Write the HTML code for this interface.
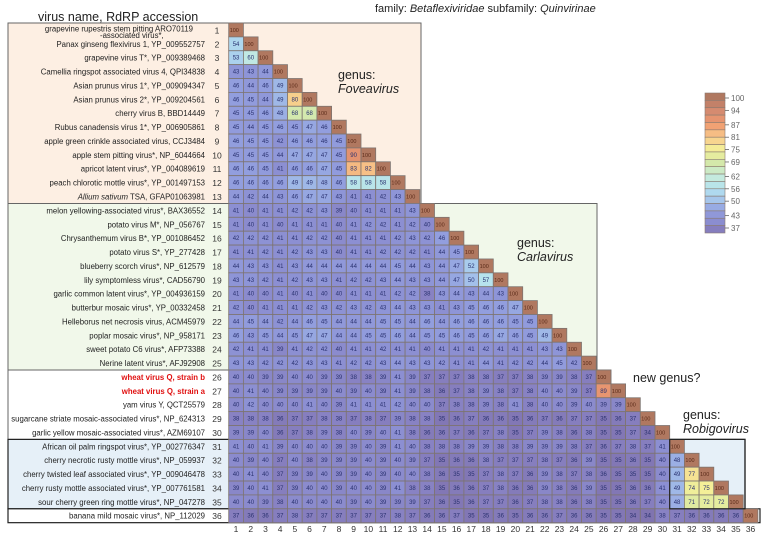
<!DOCTYPE html>
<html><head><meta charset="utf-8"><style>
html,body{margin:0;padding:0;background:#fff;}
svg{display:block;font-family:"Liberation Sans",sans-serif;}
</style></head><body>
<svg id="chart" width="767" height="535" viewBox="0 0 767 535" xmlns="http://www.w3.org/2000/svg">
<text x="375" y="12" font-size="11" fill="#222">family: <tspan font-style="italic">Betaflexiviridae</tspan>  subfamily: <tspan font-style="italic">Quinvirinae</tspan></text>
<text x="38" y="21" font-size="12.5" fill="#222">virus name, RdRP accession</text>
<g id="boxes"></g>
<g id="cells"></g>
<g id="labels"></g>
<g id="legend"></g>
<text x="338" y="79" font-size="12.5" fill="#222">genus:</text>
<text x="338" y="93" font-size="12.5" font-style="italic" fill="#222">Foveavirus</text>
<text x="517" y="247" font-size="12.5" fill="#222">genus:</text>
<text x="517" y="261" font-size="12.5" font-style="italic" fill="#222">Carlavirus</text>
<text x="633" y="382" font-size="12.5" fill="#222">new genus?</text>
<text x="683" y="419" font-size="12.5" fill="#222">genus:</text>
<text x="683" y="433" font-size="12.5" font-style="italic" fill="#222">Robigovirus</text>
</svg>
<script>
const rowNames = [
"grapevine rupestris stem pitting|ARO70119","Panax ginseng flexivirus 1, YP_009552757","grapevine virus T*, YP_009389468","Camellia ringspot associated virus 4, QPI34838","Asian prunus virus 1*, YP_009094347","Asian prunus virus 2*, YP_009204561","cherry virus B, BBD14449","Rubus canadensis virus 1*, YP_006905861","apple green crinkle associated virus, CCJ3484","apple stem pitting virus*, NP_6044664","apricot latent virus*, YP_004089619","peach chlorotic mottle virus*, YP_001497153","Allium sativum TSA,  GFAP01063981",
"melon yellowing-associated virus*, BAX36552","potato virus M*,  NP_056767","Chrysanthemum virus B*, YP_001086452","potato virus S*,  YP_277428","blueberry scorch virus*,  NP_612579","lily symptomless virus*, CAD56790","garlic common latent virus*, YP_004936159","butterbur mosaic virus*, YP_00332458","Helleborus net necrosis virus, ACM45979","poplar mosaic virus*, NP_958171","sweet potato C6 virus*,  AFP73388","Nerine latent virus*, AFJ92908",
"wheat virus Q, strain b","wheat virus Q, strain a","yam virus Y, QCT25579","sugarcane striate mosaic-associated virus*,  NP_624313","garlic yellow mosaic-associated virus*,  AZM69107",
"African oil palm ringspot virus*, YP_002776347","cherry necrotic rusty mottle virus*, NP_059937","cherry twisted leaf associated virus*, YP_009046478","cherry rusty mottle associated virus*, YP_007761581","sour cherry green ring mottle virus*, NP_047278","banana mild mosaic virus*, NP_112029"];
const pid = [
[100],
[54,100],
[53,60,100],
[43,43,44,100],
[46,44,46,49,100],
[46,45,44,49,80,100],
[45,45,46,48,68,68,100],
[45,44,45,46,45,47,46,100],
[46,45,45,42,46,46,46,45,100],
[45,45,45,44,47,47,47,45,90,100],
[46,46,45,41,46,46,47,45,83,82,100],
[46,46,46,46,49,49,48,46,58,58,58,100],
[44,42,44,43,46,47,47,43,41,41,42,43,100],
[41,40,41,41,42,42,43,39,40,41,41,41,43,100],
[41,40,41,40,41,41,41,40,41,42,42,41,42,40,100],
[42,42,42,41,41,42,42,40,41,41,41,42,43,42,46,100],
[41,41,42,41,42,43,43,40,41,41,42,42,42,41,44,45,100],
[44,43,43,41,43,44,44,44,44,44,44,45,44,43,44,47,52,100],
[43,43,42,41,42,43,43,41,42,42,43,44,43,43,44,47,50,57,100],
[41,40,40,41,40,41,40,40,41,41,41,42,42,38,43,44,43,44,43,100],
[42,40,41,41,41,42,43,42,43,42,43,44,43,43,41,43,45,46,46,47,100],
[44,45,44,42,44,46,45,44,44,44,45,45,44,46,44,46,46,46,46,45,45,100],
[46,43,45,44,45,47,47,44,44,45,45,46,44,45,45,46,45,46,47,46,45,49,100],
[42,41,41,39,41,42,42,40,41,41,42,41,41,40,41,41,41,42,41,41,41,43,43,100],
[43,43,42,42,42,43,43,41,42,42,43,44,43,43,42,41,41,44,41,42,42,44,45,42,100],
[40,40,39,39,40,40,39,39,38,38,39,41,39,37,37,37,38,38,37,37,38,39,39,38,37,100],
[40,41,40,39,39,39,39,40,39,40,39,41,39,38,36,37,38,39,38,37,38,40,40,39,37,89,100],
[40,42,40,40,40,41,40,39,41,41,41,42,40,40,37,38,38,39,38,41,38,40,40,39,40,39,39,100],
[38,38,38,36,37,37,38,38,37,38,37,39,38,38,35,36,37,36,36,35,36,37,36,37,37,35,36,37,100],
[39,39,40,36,37,38,39,38,40,39,40,41,38,36,36,37,36,37,38,35,37,39,38,36,38,35,35,37,34,100],
[41,40,41,39,40,40,40,39,39,40,39,41,40,38,38,38,39,39,38,38,39,39,39,38,37,36,37,38,37,41,100],
[40,39,40,37,40,38,39,39,39,40,39,40,39,37,35,36,36,38,37,37,37,38,37,36,39,35,35,36,35,40,48,100],
[40,41,40,37,39,39,40,39,39,40,39,40,40,38,36,35,35,37,38,37,36,39,38,37,38,36,35,35,35,40,49,77,100],
[39,40,41,37,39,40,40,39,40,40,39,41,38,38,35,36,36,37,38,36,36,39,38,36,39,35,35,36,36,41,49,74,75,100],
[40,40,39,38,40,40,40,40,39,40,39,39,39,37,36,35,36,37,37,36,37,38,38,36,38,35,35,36,37,40,48,71,72,72,100],
[37,36,36,37,38,37,37,37,37,37,37,38,37,36,36,37,35,35,36,35,36,36,37,36,36,35,35,34,34,38,37,36,36,36,36,100]];
const legendTicks = [100,94,87,81,75,69,62,56,50,43,37];

const NS="http://www.w3.org/2000/svg";
const X0=228.7, CW=14.7, Y0=23, RH=13.88;
const colX=c=>X0+c*CW, rowY=r=>Y0+r*RH;
const stops=[[34,[128,116,176]],[37,[134,126,190]],[41,[140,143,210]],[46,[146,158,222]],[50,[163,192,234]],[56,[179,225,240]],[62,[198,235,220]],[69,[213,232,166]],[75,[244,239,152]],[81,[248,200,138]],[87,[240,154,112]],[94,[208,136,112]],[100,[176,120,96]]];
function color(v){
  if(v<=stops[0][0])return 'rgb('+stops[0][1]+')';
  for(let i=1;i<stops.length;i++){
    if(v<=stops[i][0]){const a=stops[i-1],b=stops[i],t=(v-a[0])/(b[0]-a[0]);
      return 'rgb('+a[1].map((x,k)=>Math.round(x+(b[1][k]-x)*t)).join(',')+')';}
  }
  return 'rgb('+stops[stops.length-1][1]+')';
}
function mk(tag,attrs,parent,text){const e=document.createElementNS(NS,tag);for(const k in attrs)e.setAttribute(k,attrs[k]);if(text!==undefined)e.textContent=text;parent.appendChild(e);return e;}

const boxes=document.getElementById('boxes');
let b;
b=mk('polygon',{points:`8,${rowY(0)} 421,${rowY(0)} 421,${rowY(13)} 8,${rowY(13)}`,fill:'#fdefe3',stroke:'#666','stroke-width':1},boxes);

b=mk('polygon',{points:`8,${rowY(13)} 597,${rowY(13)} 597,${rowY(25)} 8,${rowY(25)}`,fill:'#f1f8ea',stroke:'#666','stroke-width':1},boxes);

b=mk('rect',{x:8,y:rowY(25),width:colX(26)-8,height:RH*5,fill:'#fff',stroke:'#666','stroke-width':1},boxes);

b=mk('rect',{x:8,y:rowY(30),width:745-8,height:RH*5,fill:'#e6f0f8',stroke:'#222','stroke-width':1.2},boxes);

b=mk('rect',{x:8,y:rowY(35),width:752,height:RH,fill:'#fff',stroke:'#222','stroke-width':1.2},boxes);


const cells=document.getElementById('cells');
pid.forEach((row,r)=>{
  row.forEach((v,c)=>{
    const g=mk('g',{},cells);
    
    
    mk('rect',{x:colX(c),y:rowY(r),width:CW,height:RH,fill:color(v),stroke:'#7d7470','stroke-width':0.8},g);
    mk('text',{x:colX(c)+(v===100?1:CW/2),y:rowY(r)+RH/2+2,'font-size':v===100?5.5:6,'text-anchor':v===100?'start':'middle',fill:v===100?'#5a2a18':'#2a3270'},g,v);
  });
});

const labels=document.getElementById('labels');
rowNames.forEach((n,r)=>{
  const cy=rowY(r)+RH/2+3;
  const red=(r===25||r===26);
  let t;
  if(n.indexOf('|')>=0){
    const p=n.split('|');
    t=mk('text',{x:193,y:cy-1.5,'font-size':7.8,'text-anchor':'end',fill:'#222'},labels,p[0]+'        '+p[1]);
    t.setAttribute('xml:space','preserve');
    
    
    const t2=mk('text',{x:100,y:cy+5,'font-size':7.8,fill:'#222'},labels,'-associated virus*,');
    
    
  } else if(r===12){
    t=mk('text',{x:205,y:cy,'font-size':7.8,'text-anchor':'end',fill:'#222'},labels);
    mk('tspan',{'font-style':'italic'},t,'Allium sativum');
    mk('tspan',{},t,' TSA,  GFAP01063981');
    
    
  } else {
    t=mk('text',{x:205,y:cy,'font-size':7.8,'text-anchor':'end',fill:red?'#e01010':'#222','font-weight':red?'bold':'normal'},labels,n);
    
    
  }
  const num=mk('text',{x:217,y:cy+0.5,'font-size':8.5,'text-anchor':'middle',fill:'#333'},labels,r+1);
  
  
  const cl=mk('text',{x:colX(r)+CW/2,y:532,'font-size':8.5,'text-anchor':'middle',fill:'#333'},labels,r+1);
  
  
});
b=mk('rect',{x:colX(30),y:rowY(30),width:745-colX(30),height:RH*5,fill:'none',stroke:'#222','stroke-width':1.2},labels);


const lg=document.getElementById('legend');
const LT=93,LB=233,NB=19,BH=(LB-LT)/NB;
for(let i=0;i<NB;i++){
  const v=100-i*(63/(NB-1));
  const r=mk('rect',{x:705,y:LT+i*BH,width:20,height:BH,fill:color(v),stroke:'#8a7a70','stroke-width':0.6},lg);
  
  
}
legendTicks.forEach(v=>{
  const y=LT+5+(100-v)/63*(LB-LT-10);
  mk('line',{x1:725,x2:729,y1:y,y2:y,stroke:'#666','stroke-width':0.8},lg);
  const t=mk('text',{x:731,y:y+3,'font-size':8,fill:'#666'},lg,v);
  
  
});
</script>
</body></html>
